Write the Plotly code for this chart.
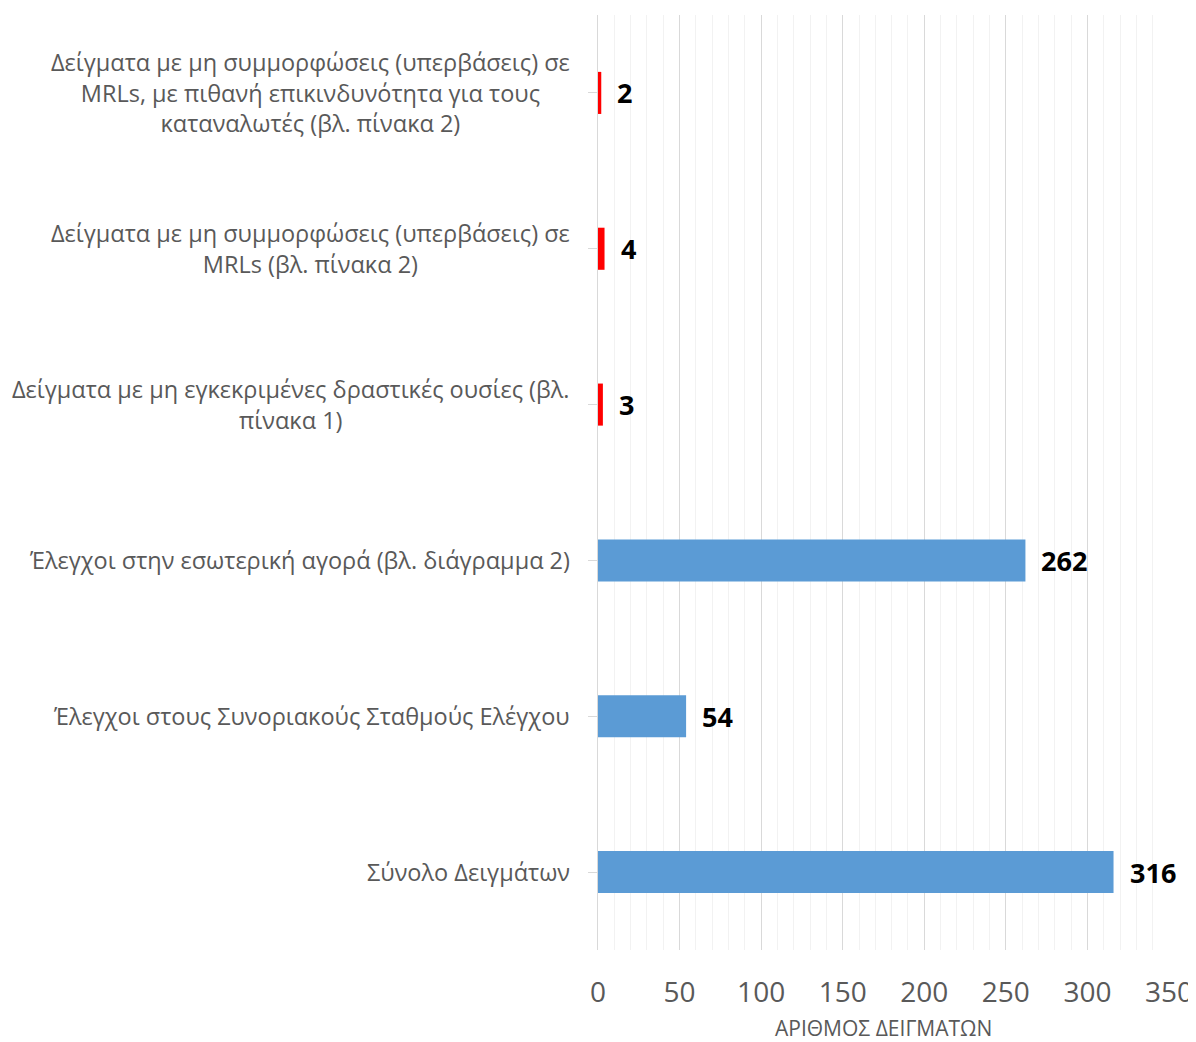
import plotly.graph_objects as go

# Data (top-to-bottom order as displayed)
categories = [
    "Δείγματα με μη συμμορφώσεις (υπερβάσεις) σε<br>MRLs, με πιθανή επικινδυνότητα για τους<br>καταναλωτές (βλ. πίνακα 2)",
    "Δείγματα με μη συμμορφώσεις (υπερβάσεις) σε<br>MRLs (βλ. πίνακα 2)",
    "Δείγματα με μη εγκεκριμένες δραστικές ουσίες (βλ.<br>πίνακα 1)",
    "Έλεγχοι στην εσωτερική αγορά (βλ. διάγραμμα 2)",
    "Έλεγχοι στους Συνοριακούς Σταθμούς Ελέγχου",
    "Σύνολο Δειγμάτων",
]
values = [2, 4, 3, 262, 54, 316]
bar_colors = ["#FF0000", "#FF0000", "#FF0000", "#5B9BD5", "#5B9BD5", "#5B9BD5"]
x_ticks = [0, 50, 100, 150, 200, 250, 300, 350]
x_title = "ΑΡΙΘΜΟΣ ΔΕΙΓΜΑΤΩΝ"

ids = list(range(len(categories)))

fig = go.Figure()
fig.add_trace(go.Bar(
    x=values, y=ids, orientation="h",
    marker=dict(color=bar_colors, line=dict(width=0)),
    width=0.27, hoverinfo="x",
))

annotations = []
for i, (cat, v) in enumerate(zip(categories, values)):
    annotations.append(dict(
        x=0, xref="paper", y=i, yref="y", text=cat, showarrow=False,
        xanchor="right", yanchor="middle", align="center",
        xshift=-26,
        font=dict(family="Open Sans", size=23.5, color="#595959"),
    ))
    annotations.append(dict(
        x=v, xref="x", y=i, yref="y", text="<b>%d</b>" % v, showarrow=False,
        xanchor="left", yanchor="middle", xshift=14,
        font=dict(family="Open Sans", size=27, color="#000000"),
    ))
# axis title placed below the tick labels
annotations.append(dict(
    x=0.5, xref="paper", y=0, yref="paper", text=x_title, showarrow=False,
    xanchor="center", yanchor="middle", yshift=-78,
    font=dict(family="Open Sans", size=21, color="#595959"),
))

# page body adds an 8px offset; figure is sized to compensate
fig.update_layout(
    width=1188, height=1034,
    margin=dict(l=590, r=27, t=7, b=92, autoexpand=False),
    paper_bgcolor="white", plot_bgcolor="white",
    showlegend=False,
    annotations=annotations,
    bargap=0.73,
)
fig.update_xaxes(
    range=[0, 350], tickvals=x_ticks, ticktext=[str(t) for t in x_ticks],
    showgrid=True, gridcolor="#D9D9D9", gridwidth=1,
    minor=dict(dtick=10, tick0=0, showgrid=True, gridcolor="#F2F2F2", gridwidth=1),
    zeroline=False, showline=False, ticks="",
    tickfont=dict(family="Open Sans", size=28, color="#595959"),
    ticklabelstandoff=23, ticklabeloverflow="allow",
    automargin=False,
    fixedrange=True,
)
fig.update_yaxes(
    range=[len(categories) - 0.5, -0.5],
    tickvals=ids, showticklabels=False,
    tickson="boundaries", ticks="outside", ticklen=9, tickcolor="#D9D9D9",
    showline=True, linecolor="#D9D9D9", linewidth=1,
    showgrid=False, zeroline=False, automargin=False, fixedrange=True,
)

fig.write_html("out.html")
